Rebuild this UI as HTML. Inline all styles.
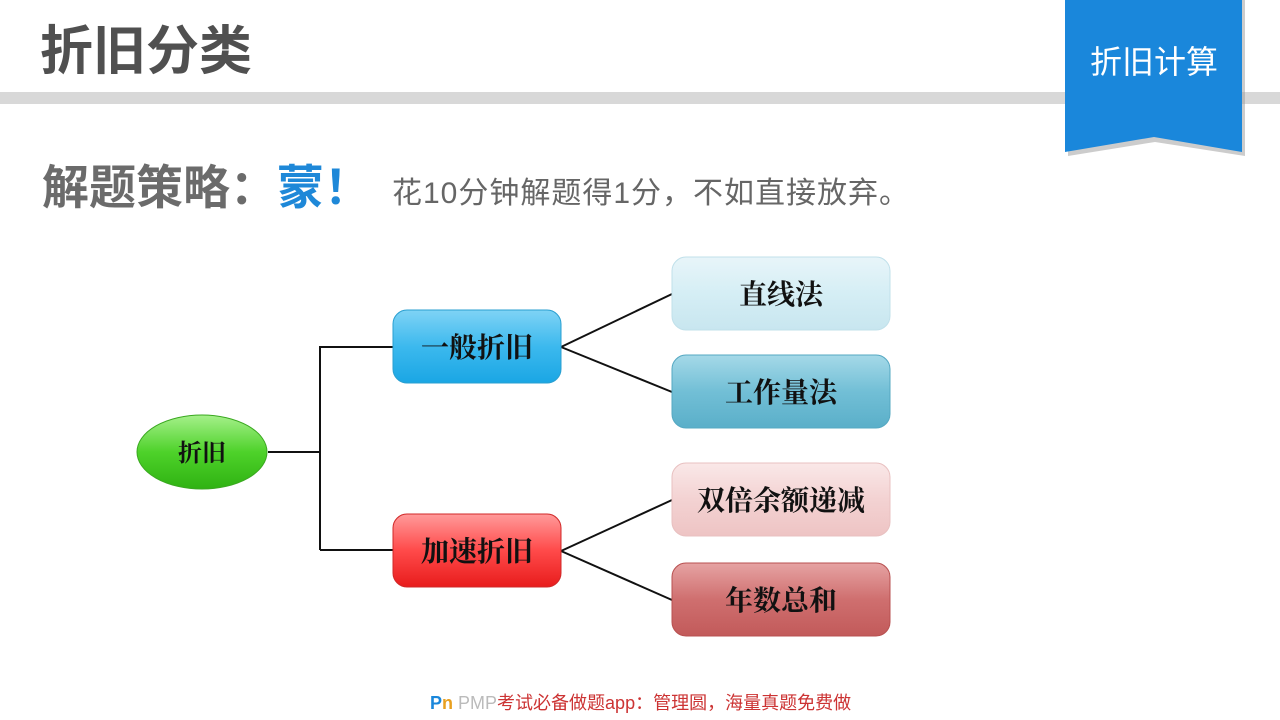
<!DOCTYPE html>
<html><head><meta charset="utf-8"><style>
html,body{margin:0;padding:0;background:#fff;}
body{width:1280px;height:720px;position:relative;overflow:hidden;font-family:"Liberation Sans","Noto Sans CJK SC",sans-serif;}
.t{position:absolute;white-space:nowrap;}
</style></head><body>
<svg width="1280" height="720" style="position:absolute;left:0;top:0">
<defs>
<linearGradient id="gB" x1="0" y1="0" x2="0" y2="1"><stop offset="0" stop-color="#7fd3f5"/><stop offset=".5" stop-color="#3cb9ee"/><stop offset="1" stop-color="#1aa6e4"/></linearGradient>
<linearGradient id="gR" x1="0" y1="0" x2="0" y2="1"><stop offset="0" stop-color="#ff9a9a"/><stop offset=".5" stop-color="#ff4a4a"/><stop offset="1" stop-color="#e81c1c"/></linearGradient>
<linearGradient id="gG" x1="0" y1="0" x2="0" y2="1"><stop offset="0" stop-color="#a5f08a"/><stop offset=".5" stop-color="#4ed22a"/><stop offset="1" stop-color="#2fb212"/></linearGradient>
<linearGradient id="gLB" x1="0" y1="0" x2="0" y2="1"><stop offset="0" stop-color="#e8f5f9"/><stop offset=".5" stop-color="#d5eef5"/><stop offset="1" stop-color="#c8e6ef"/></linearGradient>
<linearGradient id="gMB" x1="0" y1="0" x2="0" y2="1"><stop offset="0" stop-color="#a5d9e8"/><stop offset=".5" stop-color="#72bfd6"/><stop offset="1" stop-color="#5aafc9"/></linearGradient>
<linearGradient id="gLR" x1="0" y1="0" x2="0" y2="1"><stop offset="0" stop-color="#fae8e8"/><stop offset=".5" stop-color="#f3d2d2"/><stop offset="1" stop-color="#eec4c4"/></linearGradient>
<linearGradient id="gMR" x1="0" y1="0" x2="0" y2="1"><stop offset="0" stop-color="#e6a3a3"/><stop offset=".5" stop-color="#cf6f6f"/><stop offset="1" stop-color="#c25a5a"/></linearGradient>
</defs>
<rect x="0" y="92" width="1280" height="12" fill="#d8d8d8"/>
<polygon points="1068,0 1245,0 1245,156 1155,142 1068,156" fill="#9a9a9a" opacity=".5"/>
<polygon points="1065,0 1242,0 1242,152 1154,137 1065,152" fill="#1a87db"/>
<g stroke="#111" stroke-width="2" fill="none">
<line x1="268" y1="452" x2="320" y2="452"/>
<line x1="320" y1="346" x2="320" y2="550"/>
<line x1="320" y1="347" x2="393" y2="347"/>
<line x1="320" y1="550" x2="393" y2="550"/>
<line x1="561" y1="347" x2="672" y2="294"/>
<line x1="561" y1="347" x2="672" y2="392"/>
<line x1="561" y1="551" x2="672" y2="500"/>
<line x1="561" y1="551" x2="672" y2="600"/>
</g>
<ellipse cx="202" cy="452" rx="65" ry="37" fill="url(#gG)" stroke="#3aa820" stroke-width="1"/>
<rect x="393" y="310" width="168" height="73" rx="14" fill="url(#gB)" stroke="#2a9fd0"/>
<rect x="393" y="514" width="168" height="73" rx="14" fill="url(#gR)" stroke="#d02828"/>
<rect x="672" y="257" width="218" height="73" rx="14" fill="url(#gLB)" stroke="#c0e0ea"/>
<rect x="672" y="355" width="218" height="73" rx="14" fill="url(#gMB)" stroke="#55a8c2"/>
<rect x="672" y="463" width="218" height="73" rx="14" fill="url(#gLR)" stroke="#e8c0c0"/>
<rect x="672" y="563" width="218" height="73" rx="14" fill="url(#gMR)" stroke="#b85050"/>
<g font-family="Liberation Serif,Noto Serif CJK SC,serif" font-size="28" font-weight="bold" fill="#111" text-anchor="middle">
<text x="202" y="461" font-size="24">折旧</text>
<text x="477" y="357">一般折旧</text>
<text x="477" y="561">加速折旧</text>
<text x="781" y="304">直线法</text>
<text x="781" y="402">工作量法</text>
<text x="781" y="510">双倍余额递减</text>
<text x="781" y="610">年数总和</text>
</g>
</svg>
<div class="t" style="left:40px;top:20px;font-size:53px;font-weight:bold;color:#505050;line-height:64px;">折旧分类</div>
<div class="t" style="left:1090px;top:40px;font-size:32px;color:#fff;line-height:44px;">折旧计算</div>
<div class="t" style="left:42px;top:158px;font-size:47px;font-weight:bold;color:#6b6b6b;line-height:60px;">解题策略<span style="color:#6b6b6b">：</span><span style="color:#1e88d8">蒙！</span></div>
<div class="t" style="left:392px;top:174px;font-size:30px;color:#666;line-height:40px;letter-spacing:1px;">花10分钟解题得1分，不如直接放弃。</div>
<div class="t" style="left:430px;top:692px;font-size:18px;color:#c33;line-height:22px;"><span style="color:#1a87db;font-weight:bold">P</span><span style="color:#e8a020;font-weight:bold">n</span> <span style="color:#bbb">PMP</span>考试必备做题app：管理圆，海量真题免费做</div>
</body></html>
